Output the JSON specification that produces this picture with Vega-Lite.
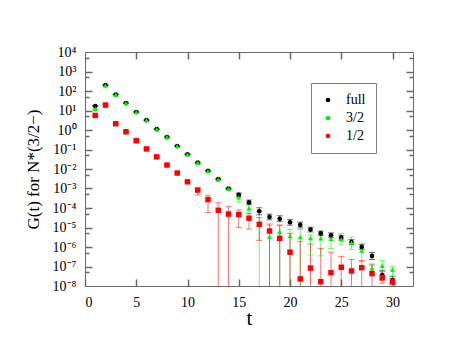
{
 "$schema": "https://vega.github.io/schema/vega-lite/v6.json",
 "width": 328, "height": 234,
 "autosize": "none",
 "padding": {"left": 85, "top": 52, "right": 45, "bottom": 68},
 "background": "white",
 "data": {"values": [
  {"s":"full","t":1,"v":17,"lo":16.2,"hi":17.8},
  {"s":"full","t":2,"v":200,"lo":195,"hi":205},
  {"s":"full","t":3,"v":66,"lo":64,"hi":68},
  {"s":"full","t":4,"v":24,"lo":23.3,"hi":24.7},
  {"s":"full","t":5,"v":8.4,"lo":8.1,"hi":8.7},
  {"s":"full","t":6,"v":3.2,"lo":3.1,"hi":3.3},
  {"s":"full","t":7,"v":1.1,"lo":1.06,"hi":1.14},
  {"s":"full","t":8,"v":0.43,"lo":0.41,"hi":0.45},
  {"s":"full","t":9,"v":0.15,"lo":0.145,"hi":0.155},
  {"s":"full","t":10,"v":0.057,"lo":0.055,"hi":0.059},
  {"s":"full","t":11,"v":0.021,"lo":0.020,"hi":0.022},
  {"s":"full","t":12,"v":0.0080,"lo":0.0077,"hi":0.0083},
  {"s":"full","t":13,"v":0.0030,"lo":0.0029,"hi":0.0031},
  {"s":"full","t":14,"v":0.00099,"lo":0.00094,"hi":0.00104},
  {"s":"full","t":15,"v":4.7e-4,"lo":3.7e-4,"hi":5.9e-4},
  {"s":"full","t":16,"v":1.95e-4,"lo":1.48e-4,"hi":2.57e-4},
  {"s":"full","t":17,"v":6.8e-5,"lo":4.5e-5,"hi":1.03e-4},
  {"s":"full","t":18,"v":3.5e-5,"lo":2.48e-5,"hi":4.9e-5},
  {"s":"full","t":19,"v":2.8e-5,"lo":2.0e-5,"hi":4.0e-5},
  {"s":"full","t":20,"v":1.86e-5,"lo":1.32e-5,"hi":2.6e-5},
  {"s":"full","t":21,"v":1.35e-5,"lo":9.6e-6,"hi":1.9e-5},
  {"s":"full","t":22,"v":7.8e-6,"lo":5.9e-6,"hi":1.03e-5},
  {"s":"full","t":23,"v":5.0e-6,"lo":3.8e-6,"hi":6.6e-6},
  {"s":"full","t":24,"v":4.0e-6,"lo":3.0e-6,"hi":5.3e-6},
  {"s":"full","t":25,"v":3.0e-6,"lo":2.3e-6,"hi":4.0e-6},
  {"s":"full","t":26,"v":1.8e-6,"lo":1.36e-6,"hi":2.4e-6},
  {"s":"full","t":27,"v":1.0e-6,"lo":7.6e-7,"hi":1.32e-6},
  {"s":"full","t":28,"v":3.5e-7,"lo":2.3e-7,"hi":5.3e-7},
  {"s":"full","t":29,"v":3.6e-8,"lo":2.0e-8,"hi":6.4e-8},
  {"s":"full","t":30,"v":2.0e-8,"lo":1.26e-8,"hi":3.2e-8},
  {"s":"3/2","t":1,"v":12,"lo":11.4,"hi":12.6},
  {"s":"3/2","t":2,"v":195,"lo":190,"hi":200},
  {"s":"3/2","t":3,"v":65,"lo":63,"hi":67},
  {"s":"3/2","t":4,"v":24,"lo":23.3,"hi":24.7},
  {"s":"3/2","t":5,"v":8.3,"lo":8.0,"hi":8.6},
  {"s":"3/2","t":6,"v":3.2,"lo":3.1,"hi":3.3},
  {"s":"3/2","t":7,"v":1.1,"lo":1.06,"hi":1.14},
  {"s":"3/2","t":8,"v":0.43,"lo":0.41,"hi":0.45},
  {"s":"3/2","t":9,"v":0.15,"lo":0.145,"hi":0.155},
  {"s":"3/2","t":10,"v":0.056,"lo":0.054,"hi":0.058},
  {"s":"3/2","t":11,"v":0.021,"lo":0.020,"hi":0.022},
  {"s":"3/2","t":12,"v":0.0079,"lo":0.0076,"hi":0.0082},
  {"s":"3/2","t":13,"v":0.0030,"lo":0.0029,"hi":0.0031},
  {"s":"3/2","t":14,"v":0.00098,"lo":0.00092,"hi":0.00104},
  {"s":"3/2","t":15,"v":3.5e-4,"lo":2.0e-4,"hi":5.0e-4},
  {"s":"3/2","t":16,"v":9.8e-5,"lo":5.0e-5,"hi":1.6e-4},
  {"s":"3/2","t":17,"v":1.5e-5,"lo":1e-9,"hi":6.3e-5},
  {"s":"3/2","t":18,"v":3.4e-6,"lo":1e-9,"hi":1.26e-5},
  {"s":"3/2","t":19,"v":6.0e-6,"lo":1e-9,"hi":1.26e-5},
  {"s":"3/2","t":20,"v":3.6e-6,"lo":1e-9,"hi":7.9e-6},
  {"s":"3/2","t":21,"v":3.2e-6,"lo":1e-9,"hi":7.9e-6},
  {"s":"3/2","t":22,"v":2.9e-6,"lo":3.9e-7,"hi":4.2e-6},
  {"s":"3/2","t":23,"v":2.8e-6,"lo":3.5e-7,"hi":4.2e-6},
  {"s":"3/2","t":24,"v":2.6e-6,"lo":8.5e-7,"hi":3.8e-6},
  {"s":"3/2","t":25,"v":2.45e-6,"lo":1.26e-6,"hi":5.0e-6},
  {"s":"3/2","t":26,"v":1.66e-6,"lo":7.6e-7,"hi":3.2e-6},
  {"s":"3/2","t":27,"v":6.5e-7,"lo":1.78e-7,"hi":1.55e-6},
  {"s":"3/2","t":28,"v":8.1e-8,"lo":5.2e-8,"hi":1.35e-7},
  {"s":"3/2","t":29,"v":1.1e-7,"lo":6.0e-8,"hi":2.0e-7},
  {"s":"3/2","t":30,"v":6.9e-8,"lo":3.0e-8,"hi":9.8e-8},
  {"s":"1/2","t":1,"v":5.6,"lo":5.4,"hi":5.8},
  {"s":"1/2","t":2,"v":19,"lo":18.4,"hi":19.6},
  {"s":"1/2","t":3,"v":2.1,"lo":2.03,"hi":2.17},
  {"s":"1/2","t":4,"v":0.81,"lo":0.78,"hi":0.84},
  {"s":"1/2","t":5,"v":0.28,"lo":0.27,"hi":0.29},
  {"s":"1/2","t":6,"v":0.107,"lo":0.103,"hi":0.111},
  {"s":"1/2","t":7,"v":0.042,"lo":0.0405,"hi":0.0435},
  {"s":"1/2","t":8,"v":0.016,"lo":0.0154,"hi":0.0166},
  {"s":"1/2","t":9,"v":0.0062,"lo":0.0059,"hi":0.0065},
  {"s":"1/2","t":10,"v":0.0022,"lo":0.0021,"hi":0.0023},
  {"s":"1/2","t":11,"v":8.3e-4,"lo":4.7e-4,"hi":1.02e-3},
  {"s":"1/2","t":12,"v":2.7e-4,"lo":5.8e-5,"hi":4.5e-4},
  {"s":"1/2","t":13,"v":7.6e-5,"lo":1e-9,"hi":1.86e-4},
  {"s":"1/2","t":14,"v":4.9e-5,"lo":1e-9,"hi":1.17e-4},
  {"s":"1/2","t":15,"v":4.6e-5,"lo":1.02e-5,"hi":7.9e-5},
  {"s":"1/2","t":16,"v":3.0e-5,"lo":8.3e-6,"hi":5.4e-5},
  {"s":"1/2","t":17,"v":1.45e-5,"lo":2.2e-6,"hi":3.2e-5},
  {"s":"1/2","t":18,"v":6.6e-6,"lo":1e-9,"hi":1.51e-5},
  {"s":"1/2","t":19,"v":2.8e-6,"lo":1e-9,"hi":1.35e-5},
  {"s":"1/2","t":20,"v":5.4e-7,"lo":1e-9,"hi":5.0e-6},
  {"s":"1/2","t":21,"v":2.3e-8,"lo":1e-9,"hi":1.95e-6},
  {"s":"1/2","t":22,"v":8.3e-8,"lo":1e-9,"hi":1.41e-6},
  {"s":"1/2","t":23,"v":1.66e-8,"lo":1e-9,"hi":8.5e-7},
  {"s":"1/2","t":24,"v":4.8e-8,"lo":1e-9,"hi":5.4e-7},
  {"s":"1/2","t":25,"v":9.1e-8,"lo":1e-9,"hi":3.2e-7},
  {"s":"1/2","t":26,"v":5.9e-8,"lo":1e-9,"hi":2.3e-7},
  {"s":"1/2","t":27,"v":8.7e-8,"lo":1e-9,"hi":2.0e-7},
  {"s":"1/2","t":28,"v":4.3e-8,"lo":1e-9,"hi":1.2e-7},
  {"s":"1/2","t":29,"v":2.7e-8,"lo":1.41e-8,"hi":5.4e-8},
  {"s":"1/2","t":30,"v":1.7e-8,"lo":1.12e-8,"hi":2.5e-8}
 ]},
 "layer": [
  {
   "mark": {"type": "rule", "clip": true, "strokeWidth": 1, "opacity": 0.55},
   "encoding": {
    "x": {"field": "t", "type": "quantitative", "scale": {"domain": [0, 32], "nice": false, "zero": false},
      "axis": {"orient": "bottom", "gridOpacity": 0, "values": [0, 5, 10, 15, 20, 25, 30], "ticks": false, "domainColor": "dimgray", "labelPadding": 9, "labelFontSize": 14, "labelFont": "Liberation Serif", "labelColor": "black", "title": "t", "titleFont": "Liberation Serif", "titleFontWeight": "normal", "titleColor": "black", "titleFontSize": 21, "titlePadding": -2}},
    "y": {"field": "lo", "type": "quantitative", "scale": {"type": "log", "domain": [1e-8, 1e4], "nice": false},
      "axis": {"orient": "left", "gridOpacity": 0, "title": "G(t) for N*(3/2−)", "titleFont": "Liberation Serif", "titleFontWeight": "normal", "titleColor": "black", "titleFontSize": 17, "titlePadding": 10,
       "labelFontSize": 14, "labelFont": "Liberation Serif", "labelColor": "black", "labelPadding": 9, "ticks": false, "domainColor": "dimgray",
       "values": [1e-8, 1e-7, 1e-6, 1e-5, 1e-4, 1e-3, 1e-2, 0.1, 1, 10, 100, 1000, 10000],
       "labelExpr": "'10' + (round(log(datum.value)/LN10) < 0 ? '⁻' : '') + substring('⁰¹²³⁴⁵⁶⁷⁸⁹', abs(round(log(datum.value)/LN10)), abs(round(log(datum.value)/LN10)) + 1)"}},
    "y2": {"field": "hi"},
    "color": {"field": "s", "type": "nominal", "scale": {"domain": ["full", "3/2", "1/2"], "range": ["#000000", "#00ee00", "#ff0000"]}, "legend": null}
   }
  },
  {
   "mark": {"type": "tick", "orient": "horizontal", "clip": true, "size": 6, "thickness": 1, "opacity": 0.55},
   "encoding": {
    "x": {"field": "t", "type": "quantitative", "axis": {"orient": "top", "offset": -234, "gridOpacity": 0, "values": [0, 5, 10, 15, 20, 25, 30], "labels": false, "domain": false, "tickSize": 7, "tickColor": "dimgray", "tickWidth": 1.5, "title": null}},
    "y": {"field": "hi", "type": "quantitative", "axis": {"orient": "right", "offset": -328, "gridOpacity": 0, "labels": false, "domain": false, "title": null, "tickColor": "dimgray", "tickWidth": 1.5,
      "values": [5e-8, 1e-7, 5e-7, 1e-6, 5e-6, 1e-5, 5e-5, 1e-4, 5e-4, 1e-3, 5e-3, 1e-2, 5e-2, 0.1, 0.5, 1, 5, 10, 50, 100, 500, 1000, 5000],
      "tickSize": {"condition": {"test": "abs(log(datum.value)/LN10 - round(log(datum.value)/LN10)) < 0.01", "value": 7}, "value": 4}}},
    "color": {"field": "s", "type": "nominal", "scale": {"domain": ["full", "3/2", "1/2"], "range": ["#000000", "#00ee00", "#ff0000"]}, "legend": null}
   }
  },
  {
   "mark": {"type": "tick", "orient": "horizontal", "clip": true, "size": 6, "thickness": 1, "opacity": 0.55},
   "encoding": {
    "x": {"field": "t", "type": "quantitative", "axis": {"orient": "bottom", "offset": -234, "gridOpacity": 0, "values": [5, 10, 15, 20, 25, 30], "labels": false, "domain": false, "tickSize": 7, "tickColor": "dimgray", "tickWidth": 1.5, "title": null}},
    "y": {"field": "lo", "type": "quantitative", "axis": {"orient": "left", "offset": -328, "gridOpacity": 0, "labels": false, "domain": false, "title": null, "tickColor": "dimgray", "tickWidth": 1.5,
      "values": [5e-8, 1e-7, 5e-7, 1e-6, 5e-6, 1e-5, 5e-5, 1e-4, 5e-4, 1e-3, 5e-3, 1e-2, 5e-2, 0.1, 0.5, 1, 5, 10, 50, 100, 500, 1000, 5000],
      "tickSize": {"condition": {"test": "abs(log(datum.value)/LN10 - round(log(datum.value)/LN10)) < 0.01", "value": 7}, "value": 4}}},
    "color": {"field": "s", "type": "nominal", "scale": {"domain": ["full", "3/2", "1/2"], "range": ["#000000", "#00ee00", "#ff0000"]}, "legend": null}
   }
  },
  {
   "mark": {"type": "point", "filled": true, "clip": true, "opacity": 1},
   "encoding": {
    "x": {"field": "t", "type": "quantitative", "axis": {"orient": "top", "gridOpacity": 0, "labels": false, "ticks": false, "domainColor": "dimgray", "title": null}},
    "y": {"field": "v", "type": "quantitative", "axis": {"orient": "right", "gridOpacity": 0, "labels": false, "ticks": false, "domainColor": "dimgray", "title": null}},
    "size": {"field": "s", "type": "nominal", "scale": {"domain": ["full", "3/2", "1/2"], "range": [22, 30, 36]}, "legend": null},
    "color": {"field": "s", "type": "nominal", "scale": {"domain": ["full", "3/2", "1/2"], "range": ["#000000", "#00ee00", "#ff0000"]},
      "legend": {"orient": "none", "legendX": 226, "legendY": 31, "title": null, "padding": 10, "strokeColor": "gray", "fillColor": "white", "labelFontSize": 14, "labelFont": "Liberation Serif", "labelColor": "black", "symbolSize": 22, "rowPadding": 4, "labelOffset": 11}},
    "shape": {"field": "s", "type": "nominal", "scale": {"domain": ["full", "3/2", "1/2"], "range": ["circle", "triangle-up", "square"]},
      "legend": {"orient": "none", "legendX": 226, "legendY": 31, "title": null, "padding": 10, "strokeColor": "gray", "fillColor": "white", "labelFontSize": 14, "labelFont": "Liberation Serif", "labelColor": "black", "symbolSize": 22, "rowPadding": 4, "labelOffset": 11}}
   }
  }
 ],
 "resolve": {"scale": {"color": "independent"}, "legend": {"color": "independent"}, "axis": {"x": "independent", "y": "independent"}}
}
